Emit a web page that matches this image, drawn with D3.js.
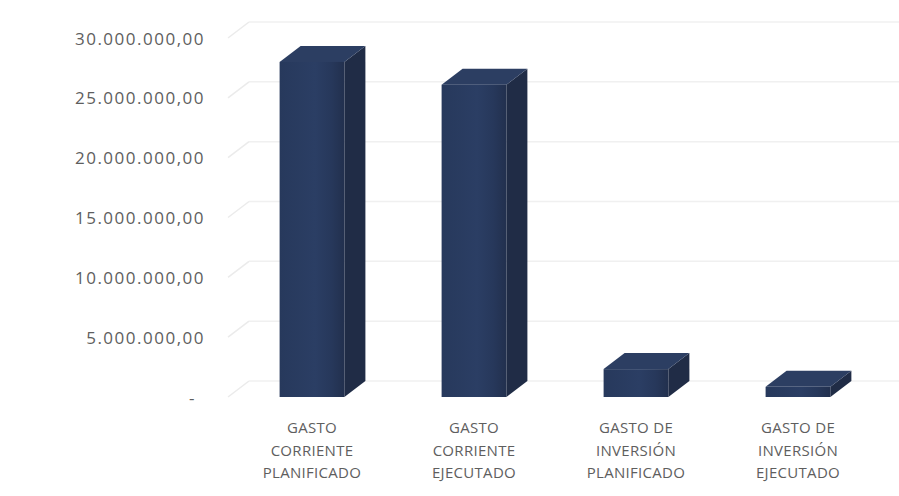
<!DOCTYPE html>
<html><head><meta charset="utf-8">
<script src="https://cdn.jsdelivr.net/npm/d3@7"></script>
<style>body{margin:0;background:#fff}svg{display:block}text{font-family:"Open Sans",sans-serif;fill:#5e5e5e}</style>
</head><body><svg id="c" width="899" height="496"></svg>
<script>
const categories = [
  ["GASTO","CORRIENTE","PLANIFICADO"],
  ["GASTO","CORRIENTE","EJECUTADO"],
  ["GASTO DE","INVERSIÓN","PLANIFICADO"],
  ["GASTO DE","INVERSIÓN","EJECUTADO"]
];
const values = [28000000, 26100000, 2330000, 850000];
const yTicks = [0, 5000000, 10000000, 15000000, 20000000, 25000000, 30000000];

const svg = d3.select("#c");
const depth = {dx: 21, dy: -16};
const wallLeft = 228;

const x = d3.scaleBand().domain(d3.range(categories.length)).range([231, 879]).paddingInner(0.6).paddingOuter(0.3);
const y = d3.scaleLinear().domain([0, 30000000]).range([397, 38]);

const loc = d3.formatLocale({decimal: ",", thousands: ".", grouping: [3], currency: ["", ""]});
const fmt = loc.format(",.2f");

// gridlines on back wall + left side wall
const grid = svg.append("g");
yTicks.forEach(t => {
  const yf = y(t), yb = yf + depth.dy;
  grid.append("line").attr("x1", wallLeft).attr("y1", yf).attr("x2", wallLeft + depth.dx).attr("y2", yb)
    .attr("stroke", "#ebebeb").attr("stroke-width", 1.5);
  grid.append("line").attr("x1", wallLeft + depth.dx).attr("y1", yb).attr("x2", 899).attr("y2", yb)
    .attr("stroke", "#f0f0f0").attr("stroke-width", 1.5);
});

// y axis labels
const yAxis = d3.axisLeft(y).tickValues(yTicks).tickSize(0).tickPadding(0)
  .tickFormat(d => d === 0 ? "-" : fmt(d));
const ya = svg.append("g").attr("transform", "translate(205,0)").call(yAxis);
ya.select(".domain").remove();
ya.selectAll("text").attr("font-size", 17).attr("letter-spacing", 1.5).style("font-family", '"Open Sans",sans-serif')
  .attr("fill", "#5e5e5e").attr("dy", "0.36em")
  .attr("dx", d => d === 0 ? -9 : 0);

// gradient for front faces
const defs = svg.append("defs");
const g = defs.append("linearGradient").attr("id", "front").attr("x1", 0).attr("x2", 1).attr("y1", 0).attr("y2", 0);
g.append("stop").attr("offset", 0).attr("stop-color", "#27395c");
g.append("stop").attr("offset", 0.55).attr("stop-color", "#2b3e64");
g.append("stop").attr("offset", 0.8).attr("stop-color", "#27385b");
g.append("stop").attr("offset", 1).attr("stop-color", "#22304e");

// bars
const bars = svg.append("g");
values.forEach((v, i) => {
  const x0 = x(i), x1 = x(i) + x.bandwidth();
  const yt = y(v), yb = y(0);
  const dx = depth.dx, dy = depth.dy;
  bars.append("path").attr("d", `M${x1},${yb}L${x1 + dx},${yb + dy}L${x1 + dx},${yt + dy}L${x1},${yt}Z`)
    .attr("fill", "#202c46");
  bars.append("path").attr("d", `M${x0},${yt}L${x0 + dx},${yt + dy}L${x1 + dx},${yt + dy}L${x1},${yt}Z`)
    .attr("fill", "#2c3e62");
  bars.append("rect").attr("x", x0).attr("y", yt).attr("width", x.bandwidth()).attr("height", yb - yt)
    .attr("fill", "url(#front)");
});

// x labels
const xl = svg.append("g");
categories.forEach((lines, i) => {
  const cx = x(i) + x.bandwidth() / 2;
  const t = xl.append("text").attr("x", cx).attr("y", 433)
    .attr("text-anchor", "middle").attr("font-size", 15).attr("letter-spacing", 0.3);
  lines.forEach((l, j) => t.append("tspan").attr("x", cx).attr("dy", j === 0 ? 0 : 22.5).text(l));
});
</script></body></html>
